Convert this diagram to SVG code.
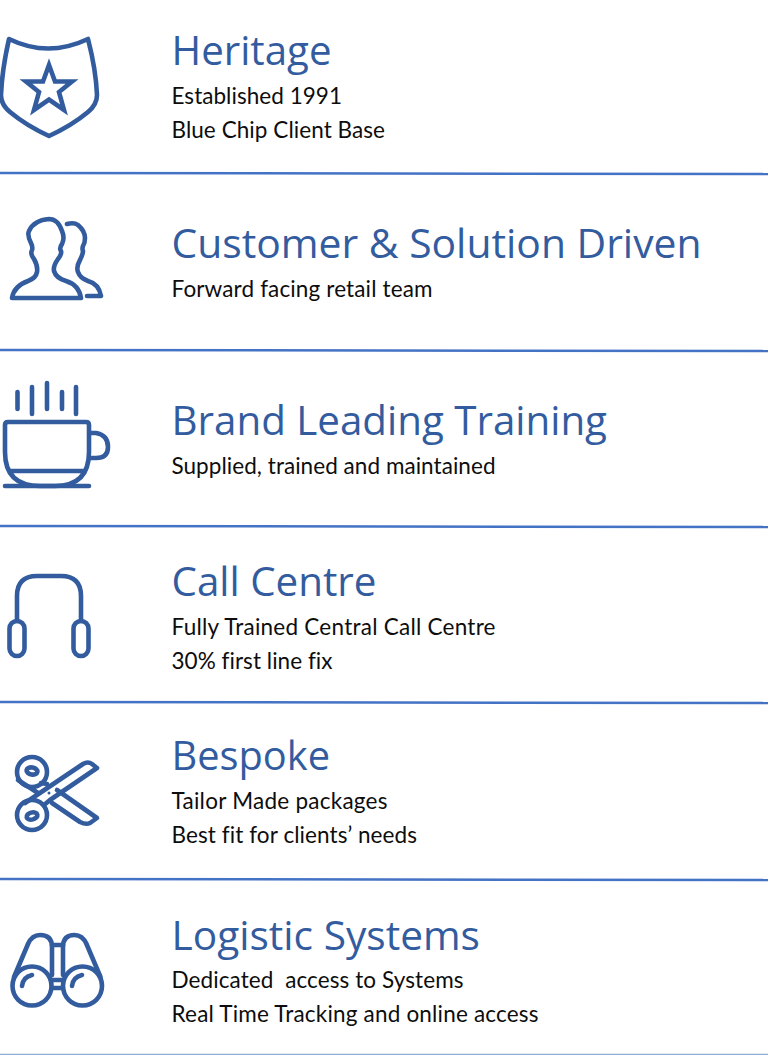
<svg xmlns="http://www.w3.org/2000/svg" width="768" height="1055" viewBox="0 0 768 1055">
<style>
.h{font-family:"Open Sans","Noto Sans",sans-serif;font-size:41px;fill:#335c9f}
.b{font-family:"Lato","Liberation Sans",sans-serif;font-size:22.5px;fill:#0d0d0d;white-space:pre;font-variant-ligatures:none}
.i{fill:none;stroke:#335c9f;stroke-width:4.6;stroke-linecap:round;stroke-linejoin:round}
.d{stroke:#4472c4;stroke-width:2.5;fill:none}
</style>
<rect width="768" height="1055" fill="#fff"/>
<g id="connectors">
<path class="d" d="M0 173L768 174"/>
<path class="d" d="M0 350L768 351"/>
<path class="d" d="M0 526L768 527"/>
<path class="d" d="M0 702L768 703"/>
<path class="d" d="M0 879L768 880"/>
<path d="M0 1054.500L768 1054.500" stroke="#8faadc" stroke-width="1.500"/>
</g>
<g id="heritage">
<path class="i" d="M9 39Q48 58 88 39Q96 70 97 95C97 100 94 107 88 112C76 122 62 130 49 136C36 130 22 122 10 112C4 107 1 100 1 95Q2 70 9 39Z"/>
<path class="i" style="stroke-linejoin:miter;stroke-width:4.6" d="M49 65L55 81.500L72 81.500L59 92L64 110L49 99.500L34 110L39 92L26 81.500L43 81.500Z"/>
<text class="h" x="171.500" y="65" textLength="160" lengthAdjust="spacingAndGlyphs">Heritage</text>
<text class="b" x="171.500" y="104" textLength="170.500">Established 1991</text>
<text class="b" x="171.500" y="138" textLength="213.500">Blue Chip Client Base</text>
</g>
<g id="customer">
<path class="i" d="M12 298Q14 286 28 281Q36 278 37 272Q38 266 34 259Q30 254 32 250Q33 247 31 243Q27 235 29 231Q34 220 49 219Q58 219 62 231Q65 238 62 244Q59 248 61 251Q62 254 58 259Q53 266 54 271Q56 278 66 281Q79 285 81 298Z"/>
<path class="i" d="M67 224Q74 222 78 225Q85 231 85 238Q85 243 83 246Q82 249 83 251Q83 254 80 260Q76 267 78 272Q80 278 88 281Q99 284 101 296L87 296"/>
<text class="h" x="171.500" y="258" textLength="530" lengthAdjust="spacingAndGlyphs">Customer &amp; Solution Driven</text>
<text class="b" x="171.500" y="296.500" textLength="261">Forward facing retail team</text>
</g>
<g id="training">
<path class="i" d="M17.500 392V409M32 387V414M47 383V409M62 392V409M76 387V414"/>
<path class="i" d="M5 425Q5 422 8 422H86Q89 422 89 425V452Q89 486 55 486H40Q5 486 5 452Z"/>
<path class="i" d="M11 471H83M5 486H89M90 433H96Q108 435 108 447Q108 458 96 458H90"/>
<text class="h" x="171.500" y="435" textLength="435.500" lengthAdjust="spacingAndGlyphs">Brand Leading Training</text>
<text class="b" x="171.500" y="474" textLength="324">Supplied, trained and maintained</text>
</g>
<g id="call-centre">
<path class="i" d="M17 621V596Q17 576 37 576H61Q81 576 81 596V621"/>
<rect class="i" x="9.500" y="621" width="15" height="35" rx="7.500"/>
<rect class="i" x="73.500" y="621" width="15" height="35" rx="7.500"/>
<text class="h" x="171.500" y="596" textLength="205" lengthAdjust="spacingAndGlyphs">Call Centre</text>
<text class="b" x="171.500" y="635" textLength="324">Fully Trained Central Call Centre</text>
<text class="b" x="171.500" y="669" textLength="161">30% first line fix</text>
</g>
<g id="bespoke">
<circle class="i" cx="32" cy="772" r="15"/>
<ellipse class="i" cx="32" cy="771" rx="5.500" ry="3.500" transform="rotate(10 32 771)"/>
<circle class="i" cx="32" cy="815" r="15"/>
<ellipse class="i" cx="32" cy="816" rx="5.500" ry="3.500" transform="rotate(-15 32 816)"/>
<path class="i" d="M25 803L83 764Q88 761 92 764L97 768L50 800L44 805"/>
<path class="i" d="M18 780L38 793M52 803L80 822Q86 825 90 823L97 818L57 790M47 784L41 783"/>
<circle cx="49" cy="793" r="1.500" fill="#335c9f"/>
<text class="h" x="171.500" y="770" textLength="158.500" lengthAdjust="spacingAndGlyphs">Bespoke</text>
<text class="b" x="171.500" y="809" textLength="216">Tailor Made packages</text>
<text class="b" x="171.500" y="843" textLength="245.500">Best fit for clients’ needs</text>
</g>
<g id="logistic">
<circle class="i" cx="32" cy="986" r="19.500"/>
<circle class="i" cx="82.500" cy="986" r="19.500"/>
<path class="i" d="M14 977L28 944Q32 935 40 935Q52 935 52 947V975"/>
<path class="i" d="M100.500 977L86.500 944Q82.500 935 74.500 935Q63 935 63 947V975"/>
<path class="i" d="M52 945H63M52 980H63M52 988H63"/>
<path class="i" d="M22 986Q23 977 32 975M72 986Q73 977 82 975"/>
<text class="h" x="171.500" y="950" textLength="308.500" lengthAdjust="spacingAndGlyphs">Logistic Systems</text>
<text class="b" x="171.500" y="988" textLength="292">Dedicated  access to Systems</text>
<text class="b" x="171.500" y="1022" textLength="367">Real Time Tracking and online access</text>
</g>
</svg>
